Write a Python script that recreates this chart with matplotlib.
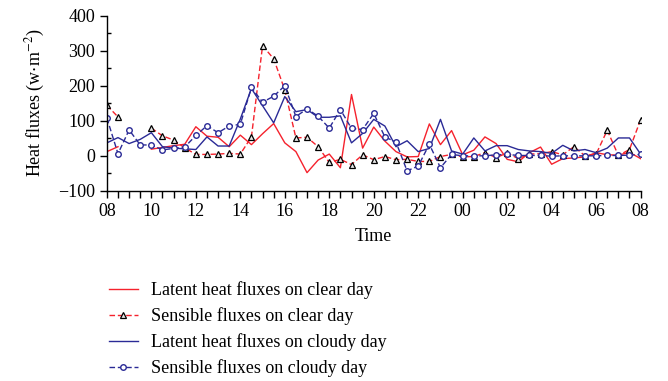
import numpy as np
import matplotlib
matplotlib.use("Agg")
import matplotlib.pyplot as plt
from matplotlib.ticker import MultipleLocator

plt.rcParams['font.family'] = ['Liberation Serif', 'DejaVu Serif']
plt.rcParams['mathtext.fontset'] = 'stix'

nan = np.nan
hours = np.arange(49) * 0.5
tick_labels = ["08", "10", "12", "14", "16", "18", "20", "22", "00", "02", "04", "06", "08"]

clear_latent = [12, 26, nan, nan, 19, 24, 29, 33, 83, 56, 53, 26, 59, 32, 63, 92, 37, 12, -48, -12,
                5, -34, 175, 22, 82, 42, 12, -3, -2, 91, 32, 72, 3, 16, 54, 35, -10, -17, 9, 25,
                -24, -8, -6, -3, 9, 3, 2, 10, -8]
clear_sensible = [144, 111, nan, nan, 79, 57, 45, 23, 4, 4, 5, 7, 5, 54, 314, 277, 188, 51, 53, 26,
                  -19, -10, -25, 3, -11, -2, -11, -10, -16, -16, -2, 4, -3, -2, 9, -5, 8, -8, 5, 6,
                  12, 3, 26, 0, 5, 73, 1, 18, 103]
cloudy_latent = [37, 52, 35, 47, 66, 26, 22, 20, 18, 54, 28, 28, 105, 192, 143, 94, 169, 126, 132, 110,
                 110, 114, 37, 64, 104, 85, 26, 43, 12, 21, 104, 14, 5, 51, 14, 29, 29, 18, 14, 12,
                 7, 30, 14, 18, 9, 22, 51, 51, 5]
cloudy_sensible = [108, 6, 74, 31, 31, 17, 21, 25, 58, 86, 66, 85, 90, 195, 153, 170, 200, 112, 134, 113,
                   79, 132, 78, 75, 121, 54, 39, -43, -29, 33, -34, 4, 0, 0, 0, 3, 4, 1, 1, 1,
                   -1, 0, 0, 0, 0, 1, 1, 2, 4]

red = '#f5222d'
navy = '#2a2a96'

fig = plt.figure(figsize=(6.68, 3.81), dpi=100)
ax = fig.add_axes([0.160, 0.499, 0.799, 0.460])

l1, = ax.plot(hours, clear_latent, color=red, lw=1.0, label='Latent heat fluxes on clear day')
l2, = ax.plot(hours, clear_sensible, color=red, lw=1.0, ls=(0, (4, 2)), marker='^', ms=4.0,
              mfc='#e8e8e8', mec='black', mew=0.9, label='Sensible fluxes on clear day')
l3, = ax.plot(hours, cloudy_latent, color=navy, lw=1.0, label='Latent heat fluxes on cloudy day')
l4, = ax.plot(hours, cloudy_sensible, color=navy, lw=1.0, ls=(0, (4, 2)), marker='o', ms=4.0,
              mfc='white', mec=navy, mew=1.0, label='Sensible fluxes on cloudy day')

ax.set_xlim(0, 24)
ax.set_ylim(-100, 400)
ax.set_xticks(np.arange(0, 24.1, 2))
ax.set_xticklabels(tick_labels)
ax.xaxis.set_minor_locator(MultipleLocator(0.5))
ax.yaxis.set_major_locator(MultipleLocator(100))
ax.yaxis.set_minor_locator(MultipleLocator(50))

for s in ['top', 'right']:
    ax.spines[s].set_visible(False)
for s in ['left', 'bottom']:
    ax.spines[s].set_linewidth(1.0)

ax.tick_params(axis='both', which='major', labelsize=13, length=5, width=1.0, direction='out')
ax.tick_params(axis='x', which='minor', length=5, width=1.0, direction='out')
ax.tick_params(axis='y', which='minor', length=3, width=1.0, direction='in')

ax.set_xlabel('Time', fontsize=13, labelpad=6)
ax.set_ylabel(r'Heat fluxes (w$\cdot$m$^{-2}$)', fontsize=13, labelpad=8)

fig.legend(handles=[l1, l2, l3, l4], loc='upper left', bbox_to_anchor=(0.1625, 0.262),
           bbox_transform=fig.transFigure, frameon=False, fontsize=13, handlelength=1.65,
           handletextpad=0.7, labelspacing=0.45, borderaxespad=0, borderpad=0, numpoints=1)

fig.savefig('out.png', dpi=100)
